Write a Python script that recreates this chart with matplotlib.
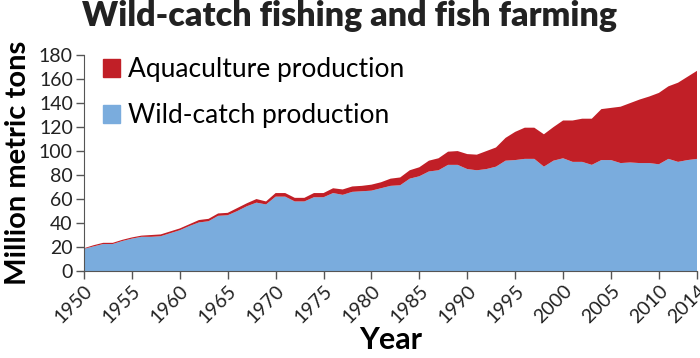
import numpy as np
import matplotlib
matplotlib.use("Agg")
import matplotlib.pyplot as plt
from matplotlib.patches import Patch

plt.rcParams['font.family'] = ['Lato', 'DejaVu Sans']

# Data (million metric tons)
years = np.arange(1950, 2015)
wild = [18.5, 20.5, 22.5, 22.5, 25, 27, 28.5, 28.5, 29, 31.5,
        34, 37.5, 40.5, 41.5, 46, 46.5, 50, 54, 57, 55.5,
        62, 62, 58, 58, 61.5, 61.5, 65, 63.5, 66, 66.5,
        67, 69, 71, 71.5, 77, 79, 83, 84, 88.5, 88.5,
        85, 84, 85, 87, 92, 92.5, 93.5, 93.5, 87, 92,
        94, 91, 91, 88.5, 92.5, 92.5, 90, 90.5, 90, 90,
        89, 93.5, 91, 92.5, 93.5]
total = [19, 21.5, 23.5, 23.5, 26, 28, 29.5, 30, 30.5, 33,
         35.5, 39, 42.5, 43.5, 48, 48.5, 52.5, 56.5, 60, 58,
         65, 65, 61, 61, 65, 65, 69, 68, 70.5, 71,
         72, 74, 77, 78, 84, 86.5, 92, 94, 99.5, 100,
         97.5, 97, 100, 103, 111, 116, 119.5, 119.5, 114, 120,
         125.5, 125.5, 127, 127, 135, 136, 137, 140, 143, 145.5,
         148.5, 154, 157, 162, 167]
aqua = np.array(total) - np.array(wild)

blue = '#7aacdd'
red = '#c11f27'

fig = plt.figure(figsize=(7, 3.58), dpi=100)
ax = fig.add_axes([0.12, 0.243, 0.876, 0.603])

ax.stackplot(years, wild, aqua, colors=[blue, red], linewidth=0)

ax.set_xlim(1950, 2014)
ax.set_ylim(0, 180)
ax.set_yticks(np.arange(0, 181, 20))
xt = list(range(1950, 2011, 5)) + [2014]
ax.set_xticks(xt)
ax.set_xticklabels([str(x) for x in xt], rotation=45, ha='right',
                   rotation_mode='anchor', fontsize=14, color='#222222')
ax.tick_params(axis='y', labelsize=14, labelcolor='#222222', pad=2)
ax.tick_params(axis='x', pad=2)
ax.tick_params(direction='out', length=6, color='#555555', width=1)

for s in ['top', 'right']:
    ax.spines[s].set_visible(False)
for s in ['left', 'bottom']:
    ax.spines[s].set_color('#555555')

ax.set_ylabel('Million metric tons', fontsize=21, fontweight='bold', labelpad=6)
ax.set_xlabel('Year', fontsize=22, fontweight='bold', labelpad=0)
fig.suptitle('Wild-catch fishing and fish farming', fontsize=24.5,
             fontweight='heavy', x=0.5, y=1.0, color='#222222')

handles = [Patch(color=red, label='Aquaculture production'),
           Patch(color=blue, label='Wild-catch production')]
ax.legend(handles=handles, loc='upper left', frameon=False, fontsize=19,
          handlelength=0.65, handleheight=0.65, handletextpad=0.3,
          labelspacing=0.8, borderaxespad=0, bbox_to_anchor=(0.014, 1.04))

fig.savefig('out.png', dpi=100)
